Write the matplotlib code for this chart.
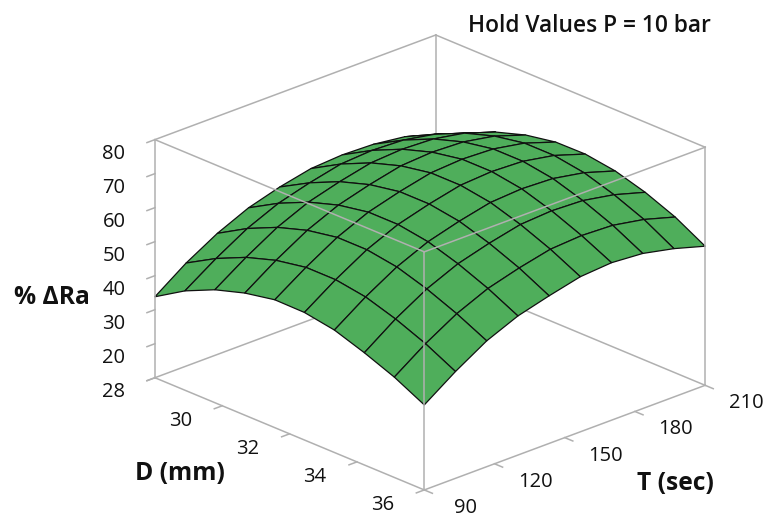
import numpy as np
import matplotlib
matplotlib.use('Agg')
import matplotlib.pyplot as plt
from mpl_toolkits.mplot3d import proj3d

plt.rcParams['font.family'] = ['Open Sans', 'DejaVu Sans']

D_ticks = [28, 30, 32, 34, 36]
D_labels = ['', '30', '32', '34', '36']
T_ticks = [90, 120, 150, 180, 210]
T_labels = ['90', '120', '150', '180', '210']
Z_ticks = [10, 20, 30, 40, 50, 60, 70, 80]
Z_labels = ['28', '20', '30', '40', '50', '60', '70', '80']  # bottom label reads 28 in the picture

D_grid = [28.0, 28.89, 29.78, 30.67, 31.56, 32.44, 33.33, 34.22, 35.11, 36.0]
T_grid = [90.0, 103.33, 116.67, 130.0, 143.33, 156.67, 170.0, 183.33, 196.67, 210.0]
# rows: D, columns: T
dRa = [
    [33.8, 40.3, 45.6, 49.7, 52.4, 54.4, 55.0, 54.7, 53.5, 50.6],
    [39.2, 45.3, 50.7, 54.7, 57.3, 59.4, 60.0, 59.6, 57.9, 54.8],
    [43.2, 49.3, 54.7, 58.7, 61.3, 63.4, 64.0, 63.6, 61.9, 58.8],
    [45.9, 52.1, 57.5, 61.5, 64.1, 66.2, 66.8, 66.4, 64.7, 61.6],
    [47.6, 53.7, 59.1, 63.1, 65.7, 67.8, 68.4, 68.0, 66.3, 63.2],
    [47.5, 53.7, 59.1, 63.1, 65.7, 67.8, 68.4, 68.0, 66.3, 63.3],
    [46.0, 52.3, 57.7, 61.7, 64.3, 66.4, 67.0, 66.6, 64.9, 62.0],
    [43.0, 49.5, 54.9, 58.9, 61.5, 63.6, 64.2, 63.8, 62.1, 59.4],
    [39.5, 45.9, 51.3, 55.3, 57.9, 60.0, 60.6, 60.2, 58.5, 55.8],
    [35.0, 41.4, 47.0, 50.9, 53.4, 55.6, 56.3, 55.6, 53.6, 50.9],
]

W, H = 766, 518
GRAY = '#b0b0b0'
GREEN = '#4fae5b'

fig = plt.figure(figsize=(W / 100, H / 100), dpi=100)
S = 590.7
ax = fig.add_axes([126.7 / W, -47.8 / H, S / W, S / H], projection='3d', computed_zorder=False)
ax.set_proj_type('ortho')
ax.view_init(elev=23.2, azim=-43.4)
ax.set_box_aspect((392, 386.5, 259))
ax.set_axis_off()

TT, DD = np.meshgrid(T_grid, D_grid)
ax.plot_surface(DD, TT, np.array(dRa), rstride=1, cstride=1, color=GREEN, shade=False,
                edgecolor='#101010', linewidth=0.9, zorder=2)

ax.set_xlim(28, 36)
ax.set_ylim(90, 210)
ax.set_zlim(10, 80)


def edge(a, b, z=3, lw=1.1):
    ax.plot([a[0], b[0]], [a[1], b[1]], [a[2], b[2]], color=GRAY, lw=lw, zorder=z)


# box, the back lower part is hidden by the surface
edge((28, 210, 10), (28, 90, 10), z=1)
edge((28, 210, 10), (36, 210, 10), z=1)
edge((28, 210, 10), (28, 210, 80), z=1)
edge((28, 90, 80), (28, 210, 80))
edge((36, 210, 80), (28, 210, 80))
edge((28, 90, 80), (36, 90, 80))
edge((36, 210, 80), (36, 90, 80))
edge((36, 90, 10), (36, 90, 80))
edge((28, 90, 10), (28, 90, 80))
edge((36, 210, 10), (36, 210, 80))
edge((28, 90, 10), (36, 90, 10))
edge((36, 90, 10), (36, 210, 10))


def label(txt, x, y, z, dx, dy, **kw):
    x2, y2, _ = proj3d.proj_transform(x, y, z, ax.get_proj())
    ax.annotate(txt, (x2, y2), xytext=(dx, dy), textcoords='offset pixels', ha='center', va='center',
                fontsize=14.5, color='#111111', annotation_clip=False, **kw)


for d, s in zip(D_ticks, D_labels):
    edge((d, 90, 10), (d, 86.6, 10))
    label(s, d, 90, 10, -42, -15)
for t, s in zip(T_ticks, T_labels):
    edge((36, t, 10), (36.24, t, 10))
    label(s, 36, t, 10, 41, -18)
for v, s in zip(Z_ticks, Z_labels):
    edge((28, 90, v), (28, 86.6, v))
    label(s, 28, 90, v, -41, -14.5)

fig.text(52 / W, 1 - 298 / H, '% ΔRa', ha='center', va='center', fontsize=17.7, fontweight='bold', color='#111111')
fig.text(180 / W, 1 - 474 / H, 'D (mm)', ha='center', va='center', fontsize=17.7, fontweight='bold', color='#111111')
fig.text(675 / W, 1 - 484 / H, 'T (sec)', ha='center', va='center', fontsize=17.7, fontweight='bold', color='#111111')
fig.text(589 / W, 1 - 26 / H, 'Hold Values P = 10 bar', ha='center', va='center', fontsize=16.4,
         fontweight='semibold', color='#111111')

fig.savefig('out.png', dpi=100)
